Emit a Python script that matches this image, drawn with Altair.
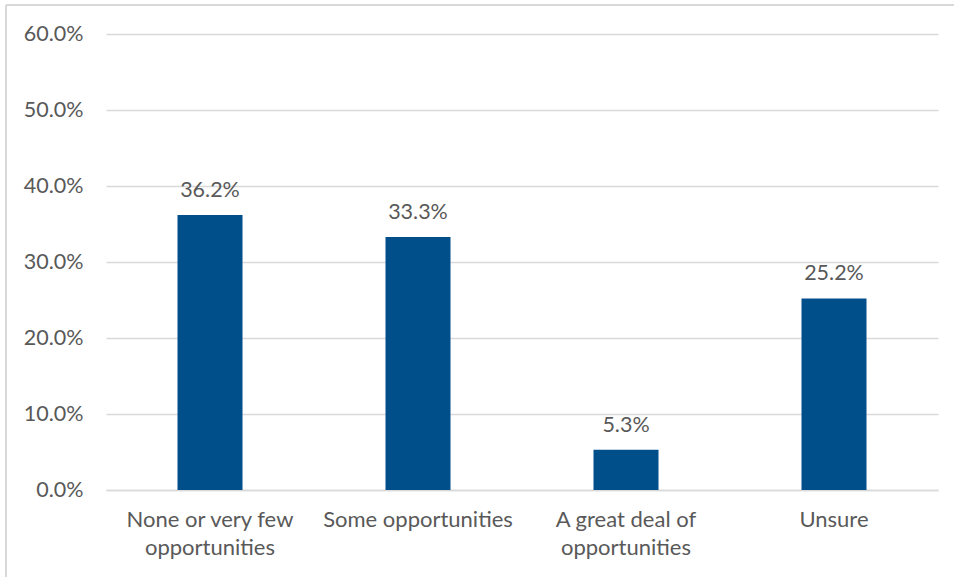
import altair as alt
import pandas as pd

categories = ["None or very few\nopportunities", "Some opportunities",
              "A great deal of\nopportunities", "Unsure"]
values = [0.362, 0.333, 0.053, 0.252]
y_ticks = [0.0, 0.1, 0.2, 0.3, 0.4, 0.5, 0.6]

df = pd.DataFrame({"category": categories, "value": values})

FONT = "Lato"
GRAY = "#595959"
BAR = "#004F8B"

x = alt.X("category:N", sort=categories, title=None,
          scale=alt.Scale(paddingInner=0, paddingOuter=0),
          axis=alt.Axis(labelAngle=0, ticks=False, grid=False,
                        domainColor="#d9d9d9", domainWidth=1.5,
                        labelFont=FONT, labelFontSize=22, labelColor=GRAY,
                        labelPadding=19, labelLineHeight=28, labelLimit=400,
                        labelExpr="split(datum.label, '\\n')"))
y = alt.Y("value:Q", title=None,
          scale=alt.Scale(domain=[0, 0.6]),
          axis=alt.Axis(values=y_ticks, format=".1%", ticks=False, domain=False,
                        gridColor="#d9d9d9", gridWidth=1.3,
                        labelFont=FONT, labelFontSize=21.5, labelColor=GRAY,
                        labelPadding=23))

base = alt.Chart(df)
bars = base.mark_bar(size=65, color=BAR).encode(x=x, y=y)
labels = base.mark_text(font=FONT, fontSize=21.5, color=GRAY, baseline="alphabetic",
                        dy=-18).encode(x=alt.X("category:N", sort=categories),
                                       y="value:Q",
                                       text=alt.Text("value:Q", format=".1%"))

border_top = alt.Chart(df).mark_rule(color="#d9d9d9", strokeWidth=1.5).encode(
    x=alt.value(-100), x2=alt.value(900), y=alt.value(-29))
border_left = alt.Chart(df).mark_rule(color="#d9d9d9", strokeWidth=1.5).encode(
    x=alt.value(-100), y=alt.value(-29), y2=alt.value(600))

chart = alt.layer(bars, labels, border_top, border_left).properties(
    width=832, height=456,
    background="white",
    autosize=alt.AutoSizeParams(type="none"),
    padding={"left": 106, "top": 34, "right": 16, "bottom": 87},
).configure_view(strokeWidth=0)

chart.save("out.html", embed_options={"renderer": "svg", "actions": False})
